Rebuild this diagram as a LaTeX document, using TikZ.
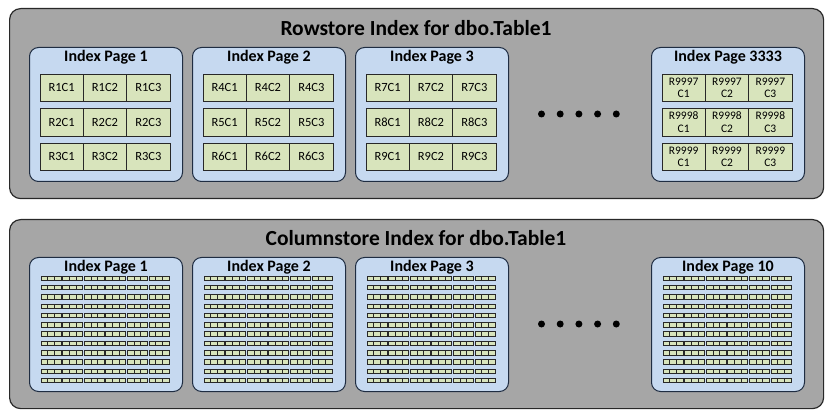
\documentclass[tikz,border=0pt]{standalone}
\usepackage{fontspec}
\setmainfont{Carlito}
\usetikzlibrary{positioning}
\definecolor{panelgray}{RGB}{166,166,166}
\definecolor{pageblue}{RGB}{198,217,240}
\definecolor{cellgreen}{RGB}{216,228,188}
\definecolor{edgedark}{RGB}{40,40,40}
\definecolor{pageedge}{RGB}{31,45,66}

\begin{document}
\begin{tikzpicture}[x=1pt, y=-1pt,
    panel/.style={draw=edgedark, line width=1.2pt, fill=panelgray, rounded corners=11pt,
        anchor=north west, minimum width=814pt, inner sep=0pt},
    page/.style={draw=pageedge, line width=1pt, fill=pageblue, rounded corners=9pt,
        anchor=north west, minimum width=153pt, minimum height=134pt, inner sep=0pt},
    cell/.style={draw=edgedark, line width=0.8pt, fill=cellgreen, minimum width=43.33pt,
        minimum height=27.5pt, inner sep=0pt, font=\fontsize{12.5}{13}\selectfont},
    smallcell/.style={cell, align=center, font=\fontsize{11.5}{12.5}\selectfont},
    paneltitle/.style={anchor=base, inner sep=0pt, font=\fontsize{21.5}{24}\selectfont\bfseries},
    pagetitle/.style={anchor=base, inner sep=0pt, font=\fontsize{16}{18}\selectfont\bfseries},
    dot/.style={circle, fill=black, minimum size=7pt, inner sep=0pt},
    tiny/.style={draw=edgedark, line width=0.7pt, fill=cellgreen}
]
    \useasboundingbox (0,0) rectangle (831,417);

    % Rowstore panel
    \node[panel, minimum height=190pt] (rowpanel) at (9,8) {};
    \node[paneltitle] (rowtitle) at (416,36) {Rowstore Index for dbo.Table1};

    \node[page] (rpage1) at (29,47) {};
    \node[page] (rpage2) at (192,47) {};
    \node[page] (rpage3) at (355,47) {};
    \node[page] (rpage4) at (651,47) {};
    \node[pagetitle] (rpage1title) at ([yshift=-15pt]rpage1.north) {Index Page 1};
    \node[pagetitle] (rpage2title) at ([yshift=-15pt]rpage2.north) {Index Page 2};
    \node[pagetitle] (rpage3title) at ([yshift=-15pt]rpage3.north) {Index Page 3};
    \node[pagetitle] (rpage4title) at ([yshift=-15pt]rpage4.north) {Index Page 3333};

    % Row cells
    \foreach \p/\px/\rb in {1/29/0, 2/192/3, 3/355/6} {
        \foreach \r in {1,2,3} {
            \foreach \c in {1,2,3} {
                \pgfmathtruncatemacro{\rn}{\rb+\r}
                \node[cell] (rp\p r\r c\c) at ({\px+11+(\c-0.5)*43.33}, {87.75+(\r-1)*34.5}) {R\rn C\c};
            }
        }
    }
    \foreach \r in {1,2,3} {
        \foreach \c in {1,2,3} {
            \pgfmathtruncatemacro{\rn}{9996+\r}
            \node[smallcell] (rp4r\r c\c) at ({651+11+(\c-0.5)*43.33}, {87.75+(\r-1)*34.5}) {R\rn\\C\c};
        }
    }

    \foreach \i/\dx in {1/541.5, 2/560.2, 3/578.9, 4/597.6, 5/616.3} {
        \node[dot] (rdot\i) at (\dx,114) {};
    }

    % Columnstore panel
    \node[panel, minimum height=189pt] (colpanel) at (9,219) {};
    \node[paneltitle] (coltitle) at (416,246) {Columnstore Index for dbo.Table1};

    \node[page] (cpage1) at (29,257) {};
    \node[page] (cpage2) at (192,257) {};
    \node[page] (cpage3) at (355,257) {};
    \node[page] (cpage4) at (651,257) {};
    \node[pagetitle] (cpage1title) at ([yshift=-15pt]cpage1.north) {Index Page 1};
    \node[pagetitle] (cpage2title) at ([yshift=-15pt]cpage2.north) {Index Page 2};
    \node[pagetitle] (cpage3title) at ([yshift=-15pt]cpage3.north) {Index Page 3};
    \node[pagetitle] (cpage4title) at ([yshift=-15pt]cpage4.north) {Index Page 10};

    % Column segments
    \foreach \px in {29,192,355,651} {
        \foreach \r in {0,...,11} {
            \foreach \g in {0,...,5} {
                \foreach \k in {0,1,2} {
                    \draw[tiny] ({\px+12+\g*21.6+\k*6.667}, {276+\r*9.3}) rectangle +(6.667,4.5);
                }
            }
        }
    }

    \foreach \i/\dx in {1/541.5, 2/560.2, 3/578.9, 4/597.6, 5/616.3} {
        \node[dot] (cdot\i) at (\dx,324) {};
    }
\end{tikzpicture}
\end{document}
